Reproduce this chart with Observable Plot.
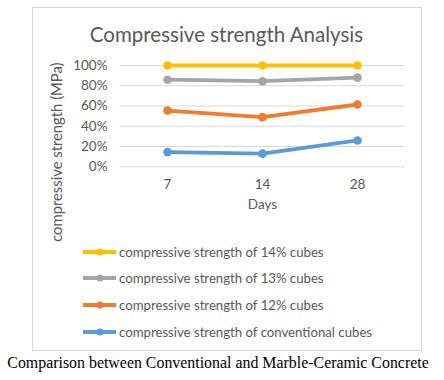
<!DOCTYPE html>
<html><head><meta charset="utf-8">
<script src="https://cdn.jsdelivr.net/npm/d3@7"></script>
<script src="https://cdn.jsdelivr.net/npm/@observablehq/plot@0.6"></script>
<style>
body{margin:0;width:444px;height:380px;position:relative;background:#fff;font-family:Lato,sans-serif;overflow:hidden;}
#frame{position:absolute;left:32px;top:7px;width:390px;height:344px;border:1px solid #d9d9d9;box-sizing:border-box;}
#title{position:absolute;left:0;width:453px;top:22px;text-align:center;font-size:20.5px;color:#595959;line-height:24px;}
#chart{position:absolute;left:0;top:0;}
#legend{position:absolute;left:83px;top:238.5px;}
.row{height:26.6px;display:flex;align-items:center;font-size:13.2px;color:#595959;}
.row svg{margin-right:3px;}
#caption{position:absolute;left:0;top:354px;width:436px;text-align:center;font-family:"Liberation Serif",serif;font-size:15.9px;color:#000;line-height:18px;}
</style></head>
<body>
<div id="frame"></div>
<div id="title">Compressive strength Analysis</div>
<div id="chart"></div>
<div id="legend"></div>
<div id="caption">Comparison between Conventional and Marble-Ceramic Concrete</div>
<script>
const days = ["7", "14", "28"];
const seriesNames = [
  "compressive strength of 14% cubes",
  "compressive strength of 13% cubes",
  "compressive strength of 12% cubes",
  "compressive strength of conventional cubes"
];
const seriesColors = ["#FFC000", "#A5A5A5", "#ED7D31", "#5B9BD5"];
const s14 = [100, 100, 100];
const s13 = [86, 84.5, 88];
const s12 = [55.5, 49, 61.5];
const sConv = [14.5, 13, 26];
const yTicks = [0, 20, 40, 60, 80, 100];
const yTitle = "compressive strength (MPa)";
const xTitle = "Days";

const seriesValues = [s14, s13, s12, sConv];
const rows = [];
seriesNames.forEach((name, i) => days.forEach((d, j) => rows.push({series: name, day: d, value: seriesValues[i][j]})));

const chart = Plot.plot({
  width: 444, height: 250,
  marginLeft: 119.5, marginRight: 39.5, marginTop: 65, marginBottom: 83.7,
  style: {background: "transparent", overflow: "visible", fontFamily: "Lato, sans-serif", color: "#595959"},
  x: {type: "point", domain: days, padding: 0.5},
  y: {domain: [0, 100]},
  color: {domain: seriesNames, range: seriesColors},
  marks: [
    Plot.ruleY(yTicks, {stroke: "#d9d9d9", strokeWidth: 1}),
    Plot.axisY({ticks: yTicks, tickSize: 0, tickPadding: 12.5, tickFormat: d => d + "%", label: null, fontSize: 13.5, fill: "#595959"}),
    Plot.axisX({tickSize: 0, tickPadding: 13, label: null, fontSize: 13.5, fill: "#595959"}),
    Plot.line(rows, {x: "day", y: "value", z: "series", stroke: "series", strokeWidth: 3.8}),
    Plot.dot(rows, {x: "day", y: "value", fill: "series", r: 4.3}),
    Plot.text([yTitle], {frameAnchor: "left", textAnchor: "middle", rotate: -90, dx: -62.5, dy: 36, fontSize: 14.8, fill: "#595959"}),
    Plot.text([xTitle], {frameAnchor: "bottom", dy: 42, fontSize: 13.5, fill: "#595959"})
  ]
});
document.getElementById("chart").appendChild(chart);

const legend = document.getElementById("legend");
seriesNames.forEach((name, i) => {
  const row = document.createElement("div");
  row.className = "row";
  row.innerHTML = `<svg width="33" height="10"><line x1="0" y1="5" x2="33" y2="5" stroke="${seriesColors[i]}" stroke-width="3.8"/><circle cx="17" cy="5" r="3.6" fill="${seriesColors[i]}"/></svg><span>${name}</span>`;
  legend.appendChild(row);
});
</script>
</body></html>
